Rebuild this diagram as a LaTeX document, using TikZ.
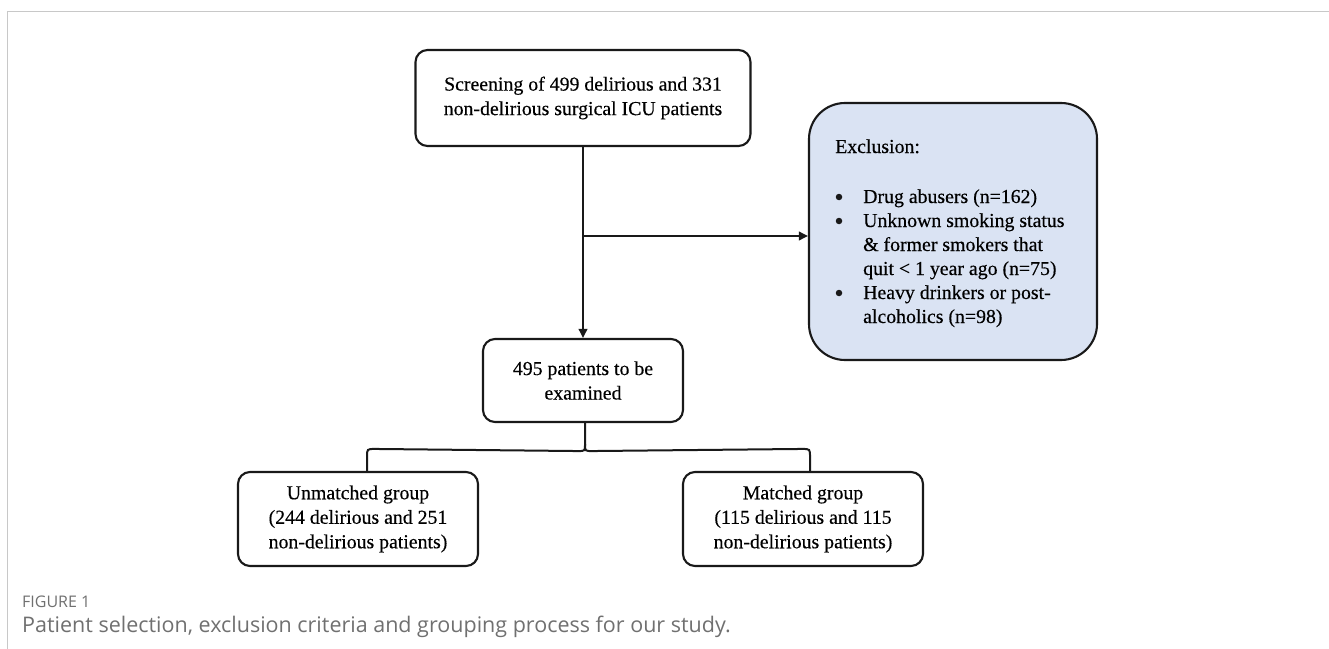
\documentclass[tikz,border=0pt]{standalone}
\usepackage{fontspec}
\setmainfont{Liberation Serif}[FakeBold=0.35]
\newfontfamily\capfont{Open Sans}
\usetikzlibrary{arrows.meta,calc}
\definecolor{exfill}{HTML}{DAE3F3}
\definecolor{framegray}{HTML}{C8C8C8}
\definecolor{capgray}{HTML}{707070}
\tikzset{
  boxstyle/.style={draw=black!90, line width=2.1bp, rounded corners=12bp, align=center,
    inner sep=0pt, font=\fontsize{19.8bp}{24.5bp}\selectfont},
  exstyle/.style={draw=black!90, line width=2.1bp, rounded corners=36bp, fill=exfill, inner sep=0pt},
  conn/.style={line width=2bp, draw=black!90},
  arrowconn/.style={conn, -{Triangle[length=9bp,width=8.5bp]}},
  bulletdot/.style={fill=black!90, circle, inner sep=0pt, minimum size=6.5bp},
}
\begin{document}
\begin{tikzpicture}[x=1bp,y=-1bp]
\useasboundingbox (0,0) rectangle (1329,649);
% frame
\draw[framegray, line width=1bp] (1329,12) -- (7,12) -- (7,649);
% nodes
\node[boxstyle, minimum width=335bp, minimum height=96bp] (top) at (583,98)
  {Screening of 499 delirious and 331\\non-delirious surgical ICU patients};
\node[exstyle, minimum width=288bp, minimum height=257bp] (excl) at (953,231.5) {};
\node[anchor=north west, inner sep=0pt, font=\fontsize{19.8bp}{24bp}\selectfont] (extext) at (835,136)
  {\begin{tabular}{@{}p{28bp}@{}l@{}}
   \multicolumn{2}{@{}l@{}}{Exclusion:}\\[26bp]
   & Drug abusers (n=162)\\
   & Unknown smoking status\\
   & \& former smokers that\\
   & quit < 1 year ago (n=75)\\
   & Heavy drinkers or post-\\
   & alcoholics (n=98)
   \end{tabular}};
\node[bulletdot] (b1) at (839,197) {};
\node[bulletdot] (b2) at (839,221) {};
\node[bulletdot] (b3) at (839,293) {};
\node[boxstyle, minimum width=200bp, minimum height=83bp] (mid) at (583,380.5)
  {495 patients to be\\examined};
\node[boxstyle, minimum width=240bp, minimum height=94bp] (ul) at (358,519)
  {Unmatched group\\(244 delirious and 251\\non-delirious patients)};
\node[boxstyle, minimum width=240bp, minimum height=94bp] (ml) at (803,519)
  {Matched group\\(115 delirious and 115\\non-delirious patients)};
% connectors
\draw[arrowconn] (top.south) -- (mid.north);
\coordinate (j) at (top.south |- 0,236);
\draw[arrowconn] (j) -- (excl.west |- j);
% brace
\coordinate (bl) at ($(ul.north)+(9,0)$);
\coordinate (br) at ($(ml.north)+(7,0)$);
\coordinate (tip) at ($(mid.south)+(2,21)$);
\draw[conn] ($(mid.south)+(2,0)$) -- (tip)
  .. controls ($(tip)+(0,7)$) .. ($(tip)+(-7,7)$)
  -- ($(bl)+(8,-22)$)
  .. controls ($(bl)+(0,-22)$) .. ($(bl)+(0,-14)$) -- (bl);
\draw[conn] (tip)
  .. controls ($(tip)+(0,7)$) .. ($(tip)+(7,7)$)
  -- ($(br)+(-8,-22)$)
  .. controls ($(br)+(0,-22)$) .. ($(br)+(0,-14)$) -- (br);
% caption
\node[anchor=west, inner sep=0pt, text=capgray, font=\capfont\fontsize{16bp}{18bp}\selectfont] (fig) at (22,602) {FIGURE 1};
\node[anchor=west, inner sep=0pt, text=capgray, font=\capfont\fontsize{21.5bp}{24bp}\selectfont] (cap) at (22,627)
  {Patient selection, exclusion criteria and grouping process for our study.};
\end{tikzpicture}
\end{document}
